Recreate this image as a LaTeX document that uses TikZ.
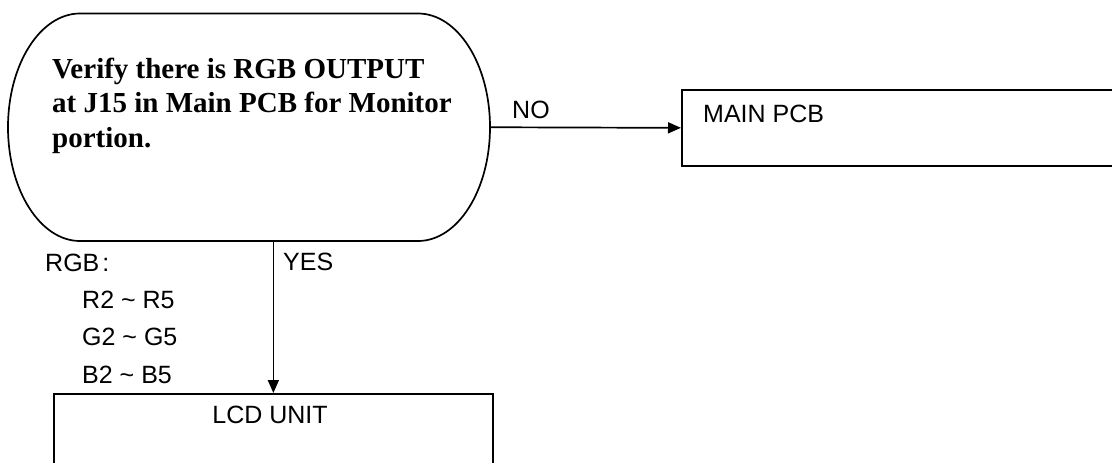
\documentclass[tikz,border=0pt]{standalone}
\usepackage{fontspec}
\setmainfont{Liberation Serif}
\newfontfamily\labelfont{Liberation Sans}
\usetikzlibrary{arrows.meta}

\begin{document}
\begin{tikzpicture}[x=1pt,y=-1pt,
  line/.style={line width=1.7pt, black},
  arr/.style={line, -{Triangle[length=13pt,width=11pt]}},
  tag/.style={font=\labelfont\fontsize{25}{30}\selectfont, inner sep=0pt, anchor=base west},
  boxnode/.style={draw, line width=1.7pt, inner sep=0pt, anchor=north west},
  question/.style={font=\bfseries\fontsize{29}{34.5}\selectfont, align=left, inner sep=0pt, anchor=base west}]
\useasboundingbox (0,0) rectangle (1112,463);
\clip (0,0) rectangle (1112,463);

% decision terminal with elliptic sides
\draw[line] (80,13.5) -- (418,13.5)
  arc[start angle=-90, end angle=90, x radius=72, y radius=113.75]
  -- (80,241)
  arc[start angle=90, end angle=270, x radius=72, y radius=113.75] -- cycle;
\node[inner sep=0pt, minimum width=482pt, minimum height=227.5pt] (dec) at (249,127.25) {};
% the base anchor of a multi-line node sits on its last line
\node[question] (qtext) at (52,147) {Verify there is RGB OUTPUT\\at J15 in Main PCB for Monitor\\portion.};

% result boxes
\node[boxnode, minimum width=450pt, minimum height=76pt] (mainpcb) at (681,89) {};
\node[tag] (mainpcbtext) at (703,122) {MAIN PCB};
\node[boxnode, minimum width=439pt, minimum height=100pt] (lcd) at (53,393) {};
\node[tag, anchor=base] (lcdtext) at (270,423) {LCD UNIT};

% connectors
\draw[arr] (dec.east) -- (mainpcb.west);
\draw[arr] (dec.south -| lcd.north) -- (lcd.north);

% connector labels and signal list
\node[tag] (no) at (512,118) {NO};
\node[tag] (yes) at (283,270) {YES};
\node[tag] (rgb) at (45,271) {RGB\hspace{3pt}:};
\node[tag] (rsig) at (82,308) {R2 \textasciitilde{} R5};
\node[tag] (gsig) at (82,345) {G2 \textasciitilde{} G5};
\node[tag] (bsig) at (82,383) {B2 \textasciitilde{} B5};
\end{tikzpicture}
\end{document}
